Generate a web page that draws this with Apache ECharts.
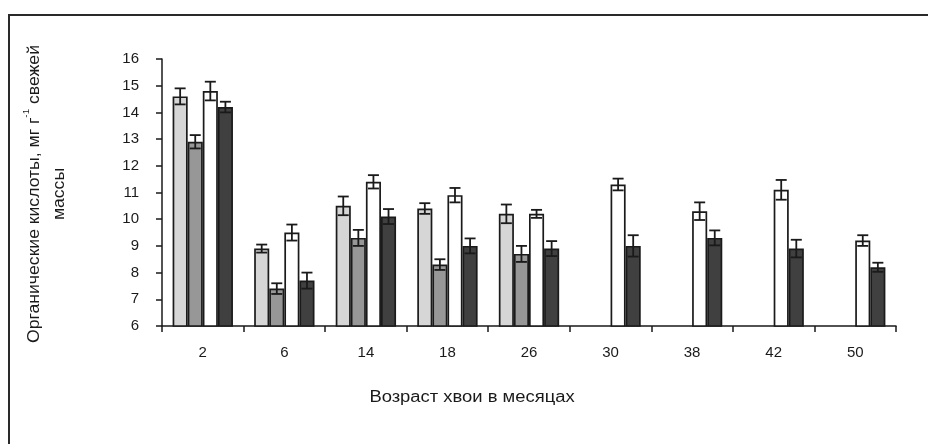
<!DOCTYPE html>
<html>
<head>
<meta charset="utf-8">
<script src="https://cdn.jsdelivr.net/npm/echarts@6/dist/echarts.min.js"></script>
<style>
  html, body { margin: 0; padding: 0; background: #fff; }
  #chart { width: 928px; height: 444px; }
</style>
</head>
<body>
<div id="chart"></div>
<script>
// Needle age, months
const categories = ['2', '6', '14', '18', '26', '30', '38', '42', '50'];

// Organic acid content (mean values) for the four variants
const series1 = [14.6, 8.9, 10.5, 10.4, 10.2, null, null, null, null];
const series2 = [12.9, 7.4, 9.3, 8.3, 8.7, null, null, null, null];
const series3 = [14.8, 9.5, 11.4, 10.9, 10.2, 11.3, 10.3, 11.1, 9.2];
const series4 = [14.2, 7.7, 10.1, 9.0, 8.9, 9.0, 9.3, 8.9, 8.2];

// Standard errors
const err1 = [0.3, 0.15, 0.35, 0.2, 0.35, null, null, null, null];
const err2 = [0.25, 0.2, 0.3, 0.2, 0.3, null, null, null, null];
const err3 = [0.35, 0.3, 0.25, 0.27, 0.15, 0.22, 0.33, 0.37, 0.2];
const err4 = [0.2, 0.3, 0.28, 0.28, 0.28, 0.4, 0.28, 0.33, 0.17];

const yTicks = { min: 6, max: 16, interval: 1 };

const FONT = 'Liberation Sans, Arial, sans-serif';
const INK = '#1a1a1a';
const CAT_GAP = 0.26;      // share of the category left empty
const N_BARS = 4;

const values = [series1, series2, series3, series4];
const errors = [err1, err2, err3, err4];
const fills = ['#d6d6d6', '#979797', '#ffffff', '#404040'];

const barSeries = values.map((vals, i) => ({
  type: 'bar',
  name: 'v' + (i + 1),
  data: vals,
  barGap: '0%',
  barCategoryGap: (CAT_GAP * 100) + '%',
  itemStyle: { color: fills[i], borderColor: INK, borderWidth: 1.7 },
  z: 2
}));

// Error bars drawn over each bar slot
const errSeries = values.map((vals, i) => ({
  type: 'custom',
  z: 5,
  silent: true,
  data: vals.map((v, k) => (v == null ? null : [k, v, errors[i][k]])).filter(d => d),
  renderItem: function (params, api) {
    const k = api.value(0), v = api.value(1), e = api.value(2);
    const catW = api.size([1, 0])[0];
    const bw = catW * (1 - CAT_GAP) / N_BARS;
    const cx = api.coord([k, v])[0] + (i - (N_BARS - 1) / 2) * bw;
    const yHi = api.coord([k, v + e])[1];
    const yLo = api.coord([k, v - e])[1];
    const half = 5.5;
    const style = { stroke: INK, lineWidth: 1.8, fill: null };
    return {
      type: 'group',
      children: [
        { type: 'line', shape: { x1: cx, y1: yHi, x2: cx, y2: yLo }, style },
        { type: 'line', shape: { x1: cx - half, y1: yHi, x2: cx + half, y2: yHi }, style },
        { type: 'line', shape: { x1: cx - half, y1: yLo, x2: cx + half, y2: yLo }, style }
      ]
    };
  }
}));

const chart = echarts.init(document.getElementById('chart'), null, { renderer: 'canvas' });

chart.setOption({
  animation: false,
  backgroundColor: '#fff',
  grid: { left: 162, right: 32, top: 59, bottom: 118, containLabel: false },
  xAxis: {
    type: 'category',
    data: categories,
    boundaryGap: true,
    axisLine: { lineStyle: { color: INK, width: 1.5 } },
    axisTick: { show: true, length: 6, lineStyle: { color: INK, width: 1.5 } },
    axisLabel: { color: INK, fontFamily: FONT, fontSize: 15, margin: 19 },
    splitLine: { show: false }
  },
  yAxis: {
    type: 'value',
    min: yTicks.min,
    max: yTicks.max,
    interval: yTicks.interval,
    axisLine: { show: true, lineStyle: { color: INK, width: 1.5 } },
    axisTick: { show: true, length: 6, lineStyle: { color: INK, width: 1.5 } },
    axisLabel: { color: INK, fontFamily: FONT, fontSize: 15, margin: 23 },
    splitLine: { show: false }
  },
  graphic: [
    {
      type: 'rect',
      silent: true,
      shape: { x: 9, y: 15, width: 960, height: 480 },
      style: { fill: null, stroke: '#2a2a2a', lineWidth: 2 }
    },
    {
      type: 'text',
      x: 472,
      y: 398,
      scaleX: 1.15,
      style: {
        text: 'Возраст хвои в месяцах',
        fill: INK,
        font: '16px ' + FONT,
        align: 'center',
        verticalAlign: 'middle'
      }
    },
    {
      type: 'text',
      x: 47,
      y: 194,
      rotation: Math.PI / 2,
      scaleX: 1.1,
      style: {
        text: '{a|Органические кислоты, мг г}{s|-1}{a| свежей}\n{a|массы}',
        align: 'center',
        verticalAlign: 'middle',
        fill: INK,
        rich: {
          a: { fontSize: 16, fontFamily: FONT, fill: INK, lineHeight: 25 },
          s: { fontSize: 9, fontFamily: FONT, fill: INK, verticalAlign: 'top', lineHeight: 25 }
        }
      }
    }
  ],
  series: barSeries.concat(errSeries)
});
</script>
</body>
</html>
